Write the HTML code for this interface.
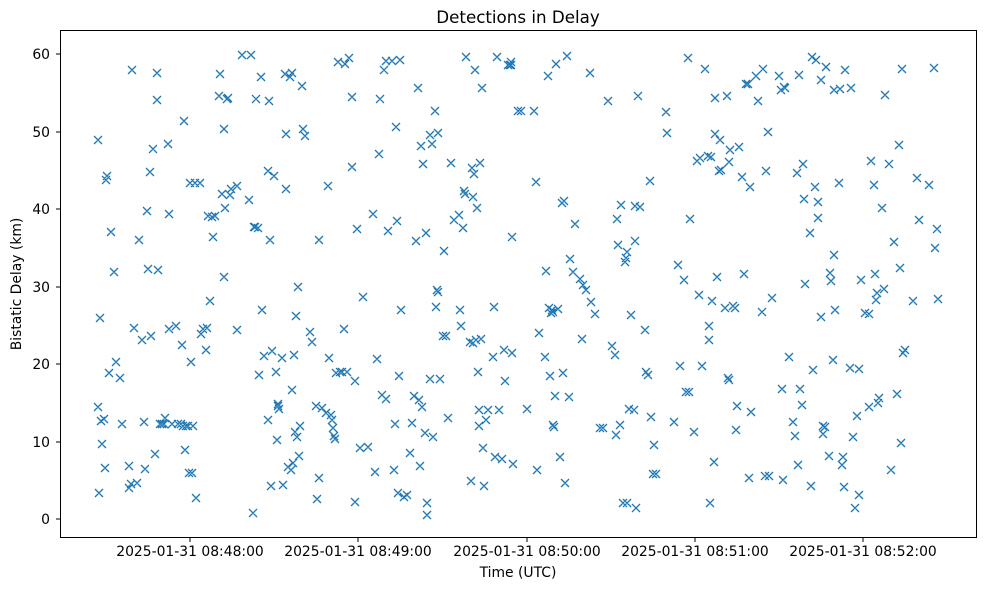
<!DOCTYPE html>
<html><head><meta charset="utf-8"><style>
html,body{margin:0;padding:0;background:#fff;}
svg{display:block;font-family:"DejaVu Sans","Liberation Sans",sans-serif;}
</style></head><body>
<svg id="s" width="989" height="590" viewBox="0 0 989 590" xmlns="http://www.w3.org/2000/svg">
<rect width="989" height="590" fill="#fff"/>
<text x="518" y="23" font-size="16.7" text-anchor="middle" fill="#000">Detections in Delay</text>
<rect x="60.5" y="30.5" width="916" height="507" fill="none" stroke="#000" stroke-width="1"/>
<g font-size="13.9" fill="#000" text-anchor="end">
<text x="50" y="524">0</text><line x1="56" x2="60" y1="519" y2="519" stroke="#000"/>
<text x="50" y="447">10</text><line x1="56" x2="60" y1="442" y2="442" stroke="#000"/>
<text x="50" y="369">20</text><line x1="56" x2="60" y1="364" y2="364" stroke="#000"/>
<text x="50" y="292">30</text><line x1="56" x2="60" y1="287" y2="287" stroke="#000"/>
<text x="50" y="214">40</text><line x1="56" x2="60" y1="209" y2="209" stroke="#000"/>
<text x="50" y="137">50</text><line x1="56" x2="60" y1="132" y2="132" stroke="#000"/>
<text x="50" y="59">60</text><line x1="56" x2="60" y1="54" y2="54" stroke="#000"/>
</g>
<g font-size="13.9" fill="#000" text-anchor="middle">
<text x="190" y="556">2025-01-31 08:48:00</text><line x1="190" x2="190" y1="538" y2="542" stroke="#000"/>
<text x="358" y="556">2025-01-31 08:49:00</text><line x1="358" x2="358" y1="538" y2="542" stroke="#000"/>
<text x="527" y="556">2025-01-31 08:50:00</text><line x1="527" x2="527" y1="538" y2="542" stroke="#000"/>
<text x="695" y="556">2025-01-31 08:51:00</text><line x1="695" x2="695" y1="538" y2="542" stroke="#000"/>
<text x="863" y="556">2025-01-31 08:52:00</text><line x1="863" x2="863" y1="538" y2="542" stroke="#000"/>
<text x="518" y="577">Time (UTC)</text>
<text transform="translate(21,284) rotate(-90)">Bistatic Delay (km)</text>
</g>
<g id="pts" stroke="#1f77b4" stroke-width="1.3" fill="none"></g>
</svg>
<script>
var p="98,140;99,493;98,407;100,318;101,421;102,444;104,419;105,468;106,180;107,176;109,373;111,232;114,272;116,362;120,378;122,424;129,466;129,488;131,484;132,70;134,328;137,483;139,240;142,340;144,422;145,469;147,211;148,269;150,172;151,336;153,149;155,454;157,73;157,100;158,270;160,424;162,424;164,424;165,418;168,144;169,329;169,214;172,424;176,326;178,424;181,424;182,345;183,426;184,121;185,450;186,426;188,426;189,473;190,183;191,362;192,473;193,426;195,183;196,498;200,183;201,334;203,329;206,350;207,328;208,216;210,301;212,217;213,237;215,216;219,96;220,74;222,194;224,129;224,277;225,208;227,99;228,98;230,195;231,189;237,186;237,330;242,55;249,200;251,55;253,513;254,227;255,227;256,99;258,228;259,375;261,77;262,310;264,356;268,420;268,171;269,101;270,240;271,486;272,351;274,176;276,372;277,440;278,404;278,406;279,409;282,358;283,485;285,74;286,189;286,134;288,467;290,77;291,470;292,73;292,390;293,463;294,355;295,432;296,316;297,437;298,287;299,456;300,426;302,86;303,129;305,136;310,332;312,342;316,406;317,499;319,240;319,478;322,408;326,413;328,186;329,358;331,415;332,420;333,428;334,436;335,439;336,373;338,62;340,372;342,372;344,329;345,64;347,372;349,58;352,97;352,167;355,381;355,502;357,229;360,448;363,297;368,447;373,214;375,472;377,359;379,154;380,99;382,395;384,70;386,61;386,399;388,231;392,61;394,470;395,424;396,127;397,221;398,493;399,376;400,60;401,310;404,497;407,495;410,453;412,423;414,396;416,241;418,88;419,400;420,466;421,146;422,407;423,164;425,433;426,233;427,503;427,515;430,135;430,379;432,144;433,437;435,111;436,307;437,290;438,292;438,133;440,379;443,336;444,251;446,336;448,418;451,163;454,220;459,215;460,310;461,326;463,228;464,191;465,194;466,57;470,342;471,481;472,168;473,197;473,343;474,174;475,70;476,340;477,208;478,372;479,426;479,410;480,163;481,339;482,88;483,448;484,486;486,420;488,410;493,357;494,307;495,457;497,57;499,410;502,459;504,350;505,381;508,65;510,65;511,65;511,62;512,237;512,353;513,464;518,111;521,111;527,409;534,111;536,182;537,470;539,333;545,357;546,271;548,76;549,308;550,376;551,313;552,310;553,425;553,312;554,427;555,396;556,64;558,309;560,457;562,203;563,373;564,201;565,483;567,56;569,397;570,259;573,272;575,224;580,279;582,339;583,285;586,290;590,73;591,302;595,314;600,428;603,428;608,101;612,346;615,355;616,435;617,219;618,245;620,425;621,205;623,503;625,262;626,258;627,503;627,252;629,409;631,315;634,410;635,241;635,206;636,508;638,96;640,207;645,330;646,372;648,375;650,181;651,417;653,474;654,445;656,474;666,112;667,133;674,422;678,265;680,366;684,280;686,392;688,58;689,392;690,219;694,432;697,161;699,295;700,158;702,366;705,69;708,156;709,340;709,326;710,503;711,157;712,301;714,462;715,134;715,98;717,277;719,171;720,140;721,170;725,308;727,96;728,378;729,380;729,162;730,150;733,306;735,308;736,430;737,406;739,147;742,177;744,274;746,84;748,84;749,478;750,187;751,412;756,76;758,101;762,312;763,69;765,476;766,171;768,132;769,476;772,298;779,76;781,90;782,389;783,480;784,87;785,88;789,357;793,422;795,436;797,173;798,465;799,75;800,389;802,405;803,164;804,199;805,284;810,233;811,486;812,57;813,370;815,187;816,60;818,218;818,202;821,317;821,80;823,434;823,426;825,427;826,67;829,456;830,273;831,281;833,360;834,255;834,90;835,310;839,183;840,89;842,465;843,457;844,487;845,70;850,368;851,88;853,437;855,508;857,416;859,495;859,369;861,280;865,313;869,407;869,314;871,161;874,185;875,274;876,300;877,293;878,403;879,398;882,208;884,289;885,95;889,164;891,470;894,242;897,394;899,145;900,268;901,443;902,69;903,353;905,350;913,301;917,178;919,220;929,185;934,68;935,248;937,229;938,299";
var g=document.getElementById("pts"),d="";
p.split(";").forEach(function(s){var a=s.split(","),x=+a[0],y=+a[1],r=4;
d+="M"+(x-r)+" "+(y-r)+"L"+(x+r)+" "+(y+r)+"M"+(x-r)+" "+(y+r)+"L"+(x+r)+" "+(y-r);});
var path=document.createElementNS("http://www.w3.org/2000/svg","path");path.setAttribute("d",d);g.appendChild(path);
</script>
</body></html>
